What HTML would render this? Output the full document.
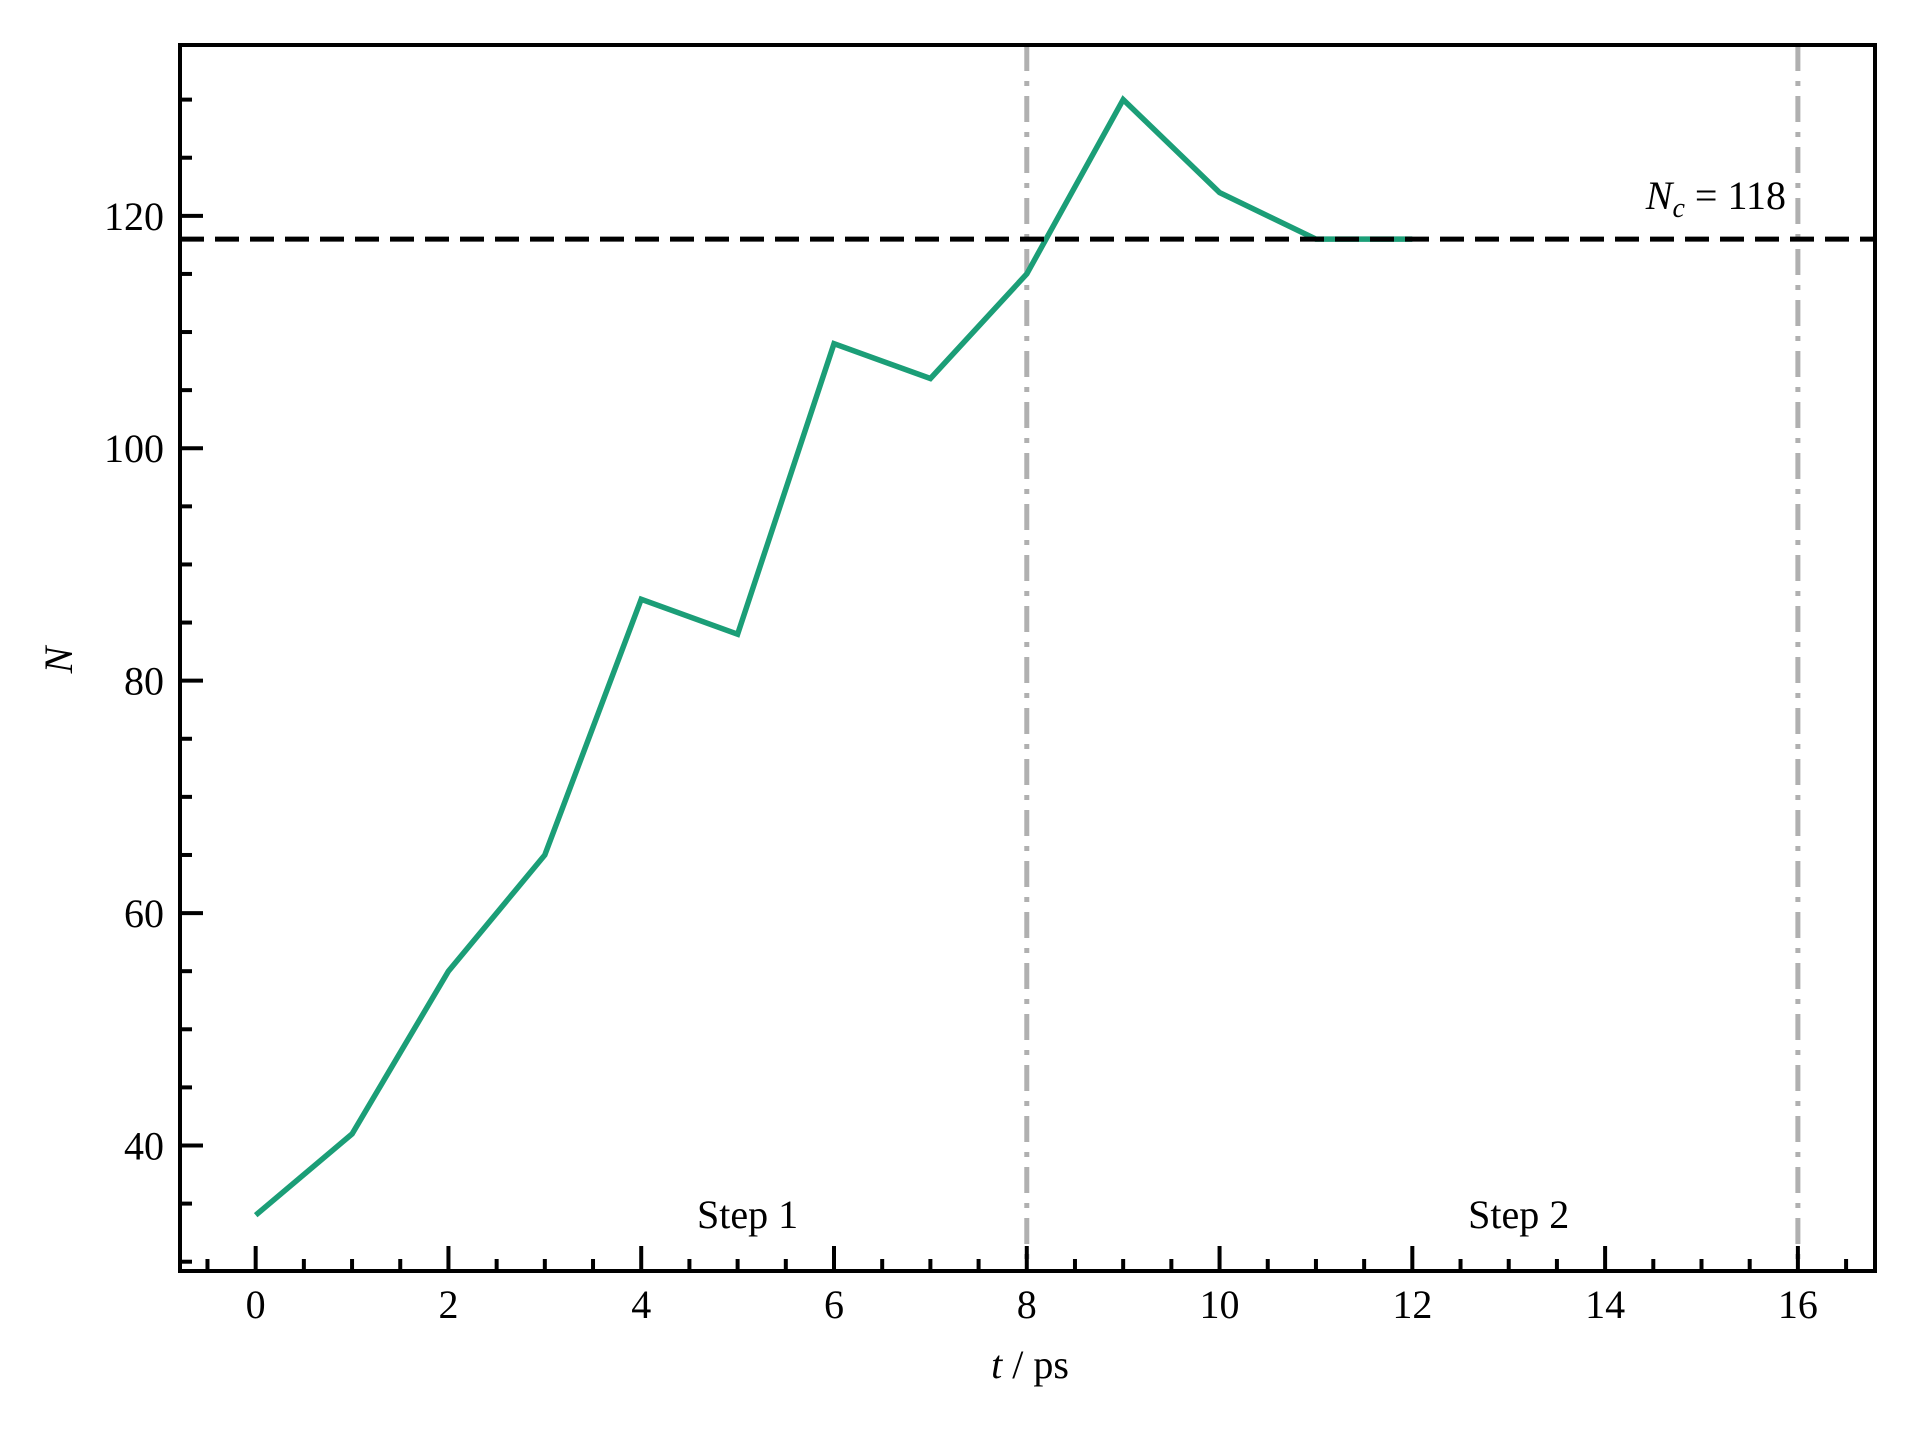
<!DOCTYPE html>
<html><head><meta charset="utf-8"><style>
html,body{margin:0;padding:0;background:#fff;}
svg{display:block;font-family:"Liberation Serif",serif;}
</style></head><body>
<svg id="chart" width="1920" height="1440" viewBox="0 0 1920 1440" xmlns="http://www.w3.org/2000/svg">
<g id="plot"></g>
</svg>
<script>
const times=[0,1,2,3,4,5,6,7,8,9,10,11,12];
const counts=[34,41,55,65,87,84,109,106,115,130,122,118,118];
const xTicks=[0,2,4,6,8,10,12,14,16];
const yTicks=[40,60,80,100,120];
const criticalN=118;
const stepLines=[8,16];
const stepLabels=[{x:5,text:"Step 1"},{x:13,text:"Step 2"}];

const L=180,R=1875,T=45,B=1271;
const x0=-0.785,x1=16.8,y0=29.2,y1=134.7;
function sx(v){return L+(v-x0)/(x1-x0)*(R-L);}
function sy(v){return B-(v-y0)/(y1-y0)*(B-T);}
const NS="http://www.w3.org/2000/svg";
const g=document.getElementById('plot');
function el(tag,attrs,parent){const e=document.createElementNS(NS,tag);for(const k in attrs)e.setAttribute(k,attrs[k]);(parent||g).appendChild(e);return e;}

stepLines.forEach(v=>{
  const e=el('line',{x1:sx(v),x2:sx(v),y1:T,y2:B,stroke:'#b0b0b0','stroke-width':5,'stroke-dasharray':'26 10 5 10'});
  
  
});
const pts=times.map((t,i)=>sx(t).toFixed(1)+','+sy(counts[i]).toFixed(1)).join(' ');
const line=el('polyline',{points:pts,fill:'none',stroke:'#1b9e77','stroke-width':5.5,'stroke-linejoin':'miter'});


const cl=el('line',{x1:L,x2:R,y1:sy(criticalN),y2:sy(criticalN),stroke:'#000','stroke-width':5,'stroke-dasharray':'24 11'});


const ct=el('text',{x:1786,y:209,'text-anchor':'end','font-size':40});
ct.innerHTML='<tspan font-style="italic">N</tspan><tspan font-style="italic" font-size="28" dy="8">c</tspan><tspan dy="-8"> = 118</tspan>';


stepLabels.forEach(s=>{
  const t=el('text',{x:sx(s.x)+10,y:1228,'text-anchor':'middle','font-size':40});
  t.textContent=s.text;
  
  
});
for(let v=-0.5;v<=16.5;v+=0.5){
  const major=Math.abs(v%2)<1e-9;
  const e=el('line',{x1:sx(v),x2:sx(v),y1:B,y2:B-(major?25:12),stroke:'#000','stroke-width':4});
  
  
}
for(let v=30;v<=130;v+=5){
  const major=v%20===0;
  const e=el('line',{x1:L,x2:L+(major?23:12),y1:sy(v),y2:sy(v),stroke:'#000','stroke-width':4});
  
  
}
xTicks.forEach(v=>{
  const t=el('text',{x:sx(v),y:1318,'text-anchor':'middle','font-size':40});
  t.textContent=v;
  
  
});
yTicks.forEach(v=>{
  const t=el('text',{x:164,y:sy(v)+14,'text-anchor':'end','font-size':40});
  t.textContent=v;
  
  
});
const fr=el('rect',{x:L,y:T,width:R-L,height:B-T,fill:'none',stroke:'#000','stroke-width':4});


const xt=el('text',{x:1030,y:1378,'text-anchor':'middle','font-size':40});
xt.innerHTML='<tspan font-style="italic">t</tspan> / ps';


const yt=el('text',{x:0,y:0,'text-anchor':'middle','font-size':40,'font-style':'italic',transform:'translate(72,660) rotate(-90)'});
yt.textContent='N';


</script>
</body></html>
